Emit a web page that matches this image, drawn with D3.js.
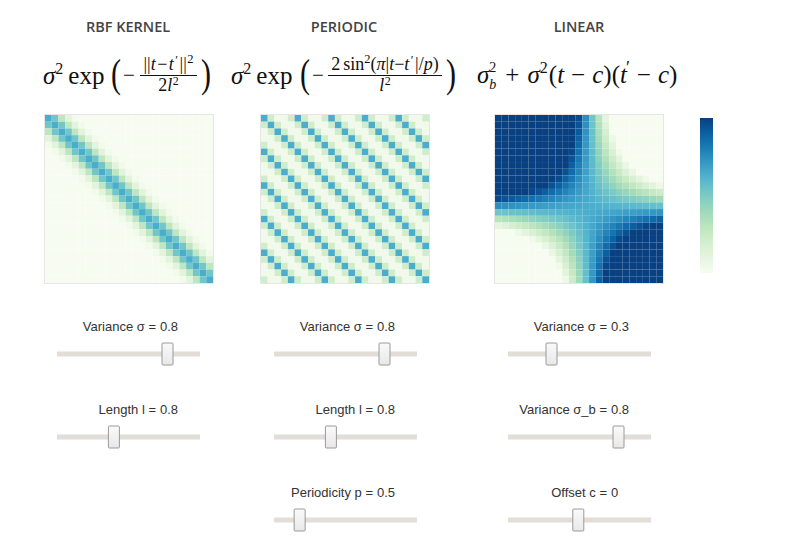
<!DOCTYPE html>
<html>
<head>
<meta charset="utf-8">
<script src="https://cdn.jsdelivr.net/npm/d3@7"></script>
<style>
  html, body { margin: 0; padding: 0; background: #fff; }
  svg { display: block; }
</style>
</head>
<body>
<svg id="chart" width="790" height="539"></svg>
<script>
// ---------------- data ----------------
const titles = ["RBF KERNEL", "PERIODIC", "LINEAR"];
const colOffsets = [0, 217, 451];

// slider labels, values and ranges per kernel
const sliderNames = [["Variance σ =", "Length l ="], ["Variance σ =", "Length l =", "Periodicity p ="], ["Variance σ =", "Variance σ_b =", "Offset c ="]];
const sliderValues = [[0.8, 0.8], [0.8, 0.8, 0.5], [0.3, 0.8, 0]];
const sliderValueText = [["0.8", "0.8"], ["0.8", "0.8", "0.5"], ["0.3", "0.8", "0"]];
const sliderMin = [[0, 0], [0, 0, 0], [0, 0, -1]];
const sliderMax = [[1, 2], [1, 2, 3], [1, 1, 1]];

// input grids (25 points each)
const gridRBF = [-6, -5.5, -5, -4.5, -4, -3.5, -3, -2.5, -2, -1.5, -1, -0.5, 0, 0.5, 1, 1.5, 2, 2.5, 3, 3.5, 4, 4.5, 5, 5.5, 6];
const gridPeriodic = [0, 0.1, 0.2, 0.3, 0.4, 0.5, 0.6, 0.7, 0.8, 0.9, 1.0, 1.1, 1.2, 1.3, 1.4, 1.5, 1.6, 1.7, 1.8, 1.9, 2.0, 2.1, 2.2, 2.3, 2.4];
const gridLinear = [-5.67, -5.25, -4.83, -4.41, -3.99, -3.57, -3.15, -2.73, -2.31, -1.89, -1.47, -1.05, -0.63, -0.21, 0.21, 0.63, 1.05, 1.47, 1.89, 2.31, 2.73, 3.15, 3.57, 3.99, 4.41];
const colorDomain = [0, 1];

// ---------------- kernels (the formulas shown in the chart) ----------------
function rbf(a, b, s, l) { return s * s * Math.exp(-((a - b) * (a - b)) / (2 * l * l)); }
function periodic(a, b, s, l, p) { const v = Math.sin(Math.PI * Math.abs(a - b) / p); return s * s * Math.exp(-2 * v * v / (l * l)); }
function linear(a, b, s, sb, c) { return sb * sb + s * s * (a - c) * (b - c); }

function matrix(grid, f) {
  const cells = [];
  grid.forEach((a, i) => grid.forEach((b, j) => cells.push({ i, j, v: f(a, b) })));
  return cells;
}
const matrices = [
  matrix(gridRBF, (a, b) => rbf(a, b, sliderValues[0][0], sliderValues[0][1])),
  matrix(gridPeriodic, (a, b) => periodic(a, b, sliderValues[1][0], sliderValues[1][1], sliderValues[1][2])),
  matrix(gridLinear, (a, b) => linear(a, b, sliderValues[2][0], sliderValues[2][1], sliderValues[2][2]))
];

// ---------------- drawing ----------------
const svg = d3.select("#chart");
svg.append("rect").attr("width", 790).attr("height", 539).attr("fill", "#fff");

const color = d3.scaleSequential(d3.interpolateGnBu).domain(colorDomain).clamp(true);

// titles
titles.forEach((t, k) => {
  svg.append("text")
    .attr("x", 128 + colOffsets[k] - (k === 1 ? 1 : 0))
    .attr("y", 32)
    .attr("text-anchor", "middle")
    .attr("font-family", "'Open Sans', sans-serif")
    .attr("font-weight", 600)
    .attr("font-size", 14.5)
    .attr("fill", "#444")
    .text(t);
});

const SERIF = "'Liberation Serif', 'Times New Roman', serif";
// formula: one text element made of tspans; dy in pieces is absolute offset from baseline, gap adds horizontal space
function formula(x, base, pieces, anchorMid) {
  const t = svg.append("text").attr("x", x).attr("y", base)
    .attr("font-family", SERIF).attr("fill", "#111")
    .attr("text-anchor", anchorMid ? "middle" : "start");
  let curDy = 0, pendingDx = 0;
  pieces.forEach(p => {
    if (p.gap) { pendingDx += p.gap; return; }
    const off = p.dy || 0;
    t.append("tspan")
      .attr("dx", pendingDx + (p.dx || 0))
      .attr("dy", off - curDy)
      .attr("font-size", p.size || 25)
      .attr("font-style", p.it ? "italic" : "normal")
      .text(p.t);
    curDy = off; pendingDx = 0;
  });
  return t;
}
function paren(x, ch) {
  svg.append("text")
    .attr("transform", `translate(${x},86.5) scale(1,1.3)`)
    .attr("font-family", SERIF).attr("font-size", 30).attr("fill", "#111")
    .text(ch);
}
function fraction(x0, x1, num, den) {
  svg.append("line").attr("x1", x0).attr("x2", x1).attr("y1", 75.5).attr("y2", 75.5)
    .attr("stroke", "#111").attr("stroke-width", 1);
  const cx = (x0 + x1) / 2;
  formula(cx, 69.5, num, true);
  formula(cx, 91, den, true);
}

const s2 = 18, s3 = 12.5, s4 = 12;
// RBF formula
formula(43, 84, [{ t: "σ", it: true }, { t: "2", size: 16, dy: -10 }, { gap: 5 }, { t: "exp", dy: 0 }]);
paren(111, "(");
formula(123, 82, [{ t: "−", size: 21 }]);
fraction(140, 197,
  [{ t: "||", size: s2 }, { t: "t", it: true, size: s2 }, { gap: 1.5 }, { t: "−", size: s2 }, { gap: 1.5 }, { t: "t", it: true, size: s2 }, { gap: 1.5 }, { t: "′", size: s3, dy: -6 }, { gap: 1.5 }, { t: "||", size: s2, dy: 0 }, { gap: 0.5 }, { t: "2", size: s3, dy: -7 }],
  [{ t: "2", size: s2 }, { t: "l", it: true, size: s2 }, { gap: 0.5 }, { t: "2", size: s4, dy: -6.5 }]);
paren(201, ")");

// Periodic formula
formula(231, 84, [{ t: "σ", it: true }, { t: "2", size: 16, dy: -10 }, { gap: 5 }, { t: "exp", dy: 0 }]);
paren(300, "(");
formula(312, 82, [{ t: "−", size: 21 }]);
fraction(328, 442,
  [{ t: "2", size: s2 }, { gap: 3 }, { t: "sin", size: s2 }, { t: "2", size: s3, dy: -7 }, { t: "(", size: s2, dy: 0 }, { t: "π", it: true, size: s2 },
   { t: "|", size: s2 }, { t: "t", it: true, size: s2 }, { t: "−", size: s2 }, { t: "t", it: true, size: s2 }, { gap: 1.5 }, { t: "′", size: s3, dy: -6 },
   { gap: 1.5 }, { t: "|", size: s2, dy: 0 }, { t: "/", size: s2 }, { t: "p", it: true, size: s2 }, { t: ")", size: s2 }],
  [{ t: "l", it: true, size: s2 }, { gap: 0.5 }, { t: "2", size: s4, dy: -6.5 }]);
paren(446, ")");

// Linear formula
formula(477, 83, [
  { t: "σ", it: true }, { t: "b", it: true, size: 14, dy: 6 }, { t: "2", size: 14, dy: -11, dx: -7 }, { gap: 9 },
  { t: "+", dy: 0 }, { gap: 8 }, { t: "σ", it: true }, { t: "2", size: 16, dy: -10 }, { gap: 1 }, { t: "(", dy: 0 }, { t: "t", it: true }, { gap: 7 }, { t: "−" }, { gap: 7 },
  { t: "c", it: true }, { t: ")" }, { t: "(" }, { t: "t", it: true }, { t: "′", size: 18, dy: -9, dx: -1 }, { gap: 7 }, { t: "−", dy: 0 }, { gap: 7 }, { t: "c", it: true }, { t: ")" }
]);

// heatmaps
const heatX = [45, 261, 495], heatY = 115, heatSize = 168;
matrices.forEach((cells, k) => {
  const n = 25;
  const xs = d3.scaleBand().domain(d3.range(n)).range([heatX[k], heatX[k] + heatSize]);
  const ys = d3.scaleBand().domain(d3.range(n)).range([heatY, heatY + heatSize]);
  const g = svg.append("g");
  g.selectAll("rect").data(cells).join("rect")
    .attr("x", d => xs(d.j)).attr("y", d => ys(d.i))
    .attr("width", xs.bandwidth()).attr("height", ys.bandwidth())
    .attr("fill", d => color(d.v));
  g.append("rect").attr("x", heatX[k] - 0.5).attr("y", heatY - 0.5).attr("width", heatSize + 1).attr("height", heatSize + 1)
    .attr("fill", "none").attr("stroke", "#e6e6e6");
});

// colorbar
const defs = svg.append("defs");
const grad = defs.append("linearGradient").attr("id", "cbar").attr("x1", 0).attr("x2", 0).attr("y1", 1).attr("y2", 0);
d3.range(0, 1.0001, 0.1).forEach(t => grad.append("stop").attr("offset", t).attr("stop-color", color(colorDomain[0] + t * (colorDomain[1] - colorDomain[0]))));
svg.append("rect").attr("x", 700).attr("y", 118).attr("width", 13).attr("height", 155).attr("fill", "url(#cbar)");

// handle gradient
const hg = defs.append("linearGradient").attr("id", "handle").attr("x1", 0).attr("x2", 0).attr("y1", 0).attr("y2", 1);
hg.append("stop").attr("offset", 0).attr("stop-color", "#fafafa");
hg.append("stop").attr("offset", 1).attr("stop-color", "#e8e8e8");

// sliders
const rowLabelY = [331, 414, 497], rowTrackY = [354, 437, 520];
const valueStartX = [160, 160, 160];
sliderNames.forEach((names, k) => {
  names.forEach((name, r) => {
    const ox = colOffsets[k];
    const vx = ox + valueStartX[k];
    const g = svg.append("g").attr("font-family", "'Liberation Sans', Arial, sans-serif").attr("font-size", 13).attr("fill", "#333");
    g.append("text").attr("x", vx - 4).attr("y", rowLabelY[r]).attr("text-anchor", "end").text(name);
    g.append("text").attr("x", vx).attr("y", rowLabelY[r]).attr("text-anchor", "start").text(sliderValueText[k][r]);
    svg.append("rect").attr("x", ox + 57).attr("y", rowTrackY[r] - 2.5).attr("width", 143).attr("height", 5)
      .attr("fill", "#e2ddd6");
    const sx = d3.scaleLinear().domain([sliderMin[k][r], sliderMax[k][r]]).range([ox + 60.3, ox + 194.3]);
    svg.append("rect").attr("x", sx(sliderValues[k][r]) - 5.5).attr("y", rowTrackY[r] - 11).attr("width", 11).attr("height", 22)
      .attr("rx", 1).attr("fill", "url(#handle)").attr("stroke", "#9a9a9a").attr("stroke-width", 1);
  });
});
</script>
</body>
</html>
